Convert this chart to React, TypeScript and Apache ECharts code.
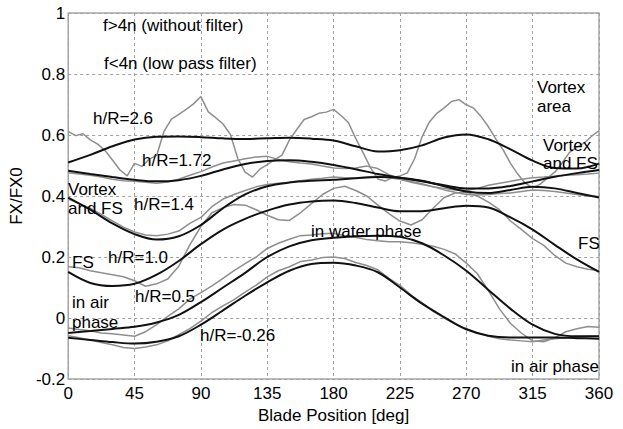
import React, { useEffect, useRef } from "react";
import * as echarts from "echarts";

// sampling steps (degrees) of each family of curves
const STEP_BLACK = 15;
const STEP_GRAY = 7.5;
const STEP_GRAY26 = 5;

const Y_MIN = -0.2;
const Y_MAX = 1;
const Y_STEP = 0.2;
const X_MIN = 0;
const X_MAX = 360;
const X_STEP = 45;

// low pass filtered curves (f<4n), every 15 deg
const black26 = [0.51, 0.535, 0.563, 0.585, 0.594, 0.595, 0.593, 0.589, 0.587, 0.589, 0.591, 0.588, 0.582, 0.563, 0.546, 0.55, 0.566, 0.592, 0.602, 0.586, 0.553, 0.516, 0.492, 0.49, 0.506];
const black172 = [0.483, 0.472, 0.462, 0.453, 0.448, 0.452, 0.466, 0.487, 0.505, 0.515, 0.517, 0.512, 0.502, 0.488, 0.472, 0.46, 0.448, 0.435, 0.425, 0.425, 0.433, 0.448, 0.463, 0.475, 0.485];
const black14 = [0.395, 0.355, 0.31, 0.275, 0.257, 0.268, 0.305, 0.36, 0.405, 0.432, 0.444, 0.45, 0.453, 0.458, 0.462, 0.46, 0.45, 0.432, 0.415, 0.41, 0.42, 0.43, 0.425, 0.41, 0.395];
const black10 = [0.151, 0.115, 0.105, 0.112, 0.142, 0.187, 0.242, 0.29, 0.325, 0.352, 0.372, 0.382, 0.385, 0.377, 0.362, 0.35, 0.35, 0.36, 0.368, 0.362, 0.33, 0.29, 0.24, 0.192, 0.151];
const black05 = [-0.049, -0.043, -0.036, -0.029, -0.015, 0.01, 0.052, 0.1, 0.148, 0.2, 0.235, 0.255, 0.263, 0.268, 0.27, 0.266, 0.245, 0.205, 0.155, 0.092, 0.03, -0.022, -0.052, -0.06, -0.06];
const blackM026 = [-0.065, -0.072, -0.079, -0.084, -0.078, -0.06, -0.022, 0.025, 0.073, 0.117, 0.155, 0.177, 0.181, 0.172, 0.15, 0.1, 0.047, 0.003, -0.037, -0.058, -0.064, -0.064, -0.064, -0.066, -0.068];

// unfiltered curves (f>4n)
const gray26 = [0.612, 0.598, 0.604, 0.584, 0.57, 0.549, 0.518, 0.486, 0.466, 0.507, 0.497, 0.521, 0.533, 0.612, 0.652, 0.668, 0.684, 0.702, 0.726, 0.676, 0.657, 0.636, 0.602, 0.523, 0.478, 0.462, 0.488, 0.503, 0.519, 0.534, 0.583, 0.618, 0.651, 0.66, 0.671, 0.675, 0.684, 0.664, 0.641, 0.589, 0.542, 0.493, 0.456, 0.449, 0.461, 0.466, 0.476, 0.523, 0.594, 0.643, 0.671, 0.689, 0.71, 0.716, 0.699, 0.688, 0.661, 0.627, 0.587, 0.551, 0.507, 0.471, 0.442, 0.427, 0.438, 0.459, 0.478, 0.509, 0.543, 0.56, 0.574, 0.596, 0.614];
const gray172 = [0.476, 0.472, 0.468, 0.462, 0.455, 0.45, 0.448, 0.445, 0.442, 0.446, 0.455, 0.468, 0.48, 0.495, 0.508, 0.515, 0.522, 0.528, 0.53, 0.52, 0.512, 0.508, 0.505, 0.498, 0.492, 0.49, 0.492, 0.498, 0.49, 0.47, 0.455, 0.445, 0.438, 0.43, 0.425, 0.42, 0.418, 0.425, 0.435, 0.442, 0.448, 0.455, 0.46, 0.462, 0.465, 0.468, 0.47, 0.472, 0.475];
const gray14 = [0.39, 0.375, 0.36, 0.34, 0.318, 0.298, 0.282, 0.272, 0.27, 0.275, 0.285, 0.31, 0.33, 0.365, 0.39, 0.405, 0.418, 0.43, 0.438, 0.442, 0.445, 0.45, 0.455, 0.458, 0.462, 0.46, 0.458, 0.462, 0.465, 0.46, 0.455, 0.448, 0.44, 0.43, 0.42, 0.412, 0.405, 0.403, 0.405, 0.408, 0.41, 0.415, 0.42, 0.418, 0.415, 0.41, 0.405, 0.4, 0.398];
const gray10 = [0.168, 0.165, 0.155, 0.148, 0.142, 0.135, 0.122, 0.104, 0.112, 0.128, 0.17, 0.24, 0.3, 0.345, 0.362, 0.372, 0.37, 0.355, 0.337, 0.322, 0.32, 0.345, 0.375, 0.405, 0.425, 0.432, 0.418, 0.4, 0.37, 0.342, 0.318, 0.305, 0.322, 0.36, 0.395, 0.41, 0.412, 0.4, 0.38, 0.355, 0.318, 0.29, 0.26, 0.238, 0.205, 0.18, 0.168, 0.16, 0.155];
const gray05 = [-0.033, -0.038, -0.042, -0.049, -0.052, -0.056, -0.06, -0.045, -0.022, 0.005, 0.03, 0.062, 0.083, 0.105, 0.13, 0.155, 0.178, 0.2, 0.228, 0.245, 0.258, 0.27, 0.272, 0.276, 0.278, 0.27, 0.265, 0.257, 0.253, 0.25, 0.25, 0.247, 0.242, 0.235, 0.225, 0.21, 0.18, 0.145, 0.09, 0.03, -0.018, -0.05, -0.075, -0.078, -0.065, -0.045, -0.035, -0.028, -0.03];
const grayM026 = [-0.058, -0.065, -0.072, -0.08, -0.088, -0.097, -0.1, -0.095, -0.088, -0.075, -0.055, -0.035, -0.01, 0.018, 0.04, 0.06, 0.085, 0.108, 0.135, 0.155, 0.168, 0.185, 0.19, 0.198, 0.2, 0.195, 0.182, 0.172, 0.158, 0.13, 0.107, 0.075, 0.05, 0.022, 0.0, -0.02, -0.035, -0.048, -0.06, -0.068, -0.072, -0.075, -0.078, -0.072, -0.068, -0.065, -0.063, -0.06, -0.06];

// annotation texts
const annotations: { text: string; x: number; y: number }[] = [
  { text: "f>4n (without filter)", x: 103, y: 25 },
  { text: "f<4n (low pass filter)", x: 104, y: 63 },
  { text: "h/R=2.6", x: 93, y: 118 },
  { text: "h/R=1.72", x: 142, y: 160 },
  { text: "Vortex", x: 68, y: 189 },
  { text: "and FS", x: 68, y: 208 },
  { text: "h/R=1.4", x: 134, y: 204 },
  { text: "FS", x: 72, y: 262 },
  { text: "h/R=1.0", x: 108, y: 257 },
  { text: "in air", x: 72, y: 302 },
  { text: "phase", x: 72, y: 322 },
  { text: "h/R=0.5", x: 135, y: 296 },
  { text: "h/R=-0.26", x: 200, y: 335 },
  { text: "in water phase", x: 311, y: 231 },
  { text: "FS", x: 578, y: 243 },
  { text: "in air phase", x: 511, y: 366 },
  { text: "Vortex", x: 537, y: 87 },
  { text: "area", x: 537, y: 106 },
  { text: "Vortex", x: 543, y: 145 },
  { text: "and FS", x: 543, y: 163 },
];

const FONT = "Liberation Sans, Arial, Helvetica, sans-serif";
const FS = 17;

function toPairs(step: number, ys: number[]) {
  return ys.map((y, i) => [i * step, y]);
}

export default function App() {
  const ref = useRef<HTMLDivElement>(null);
  useEffect(() => {
    if (!ref.current) return;
    const chart = echarts.init(ref.current, undefined, { renderer: "svg" });
    const grayStyle = { color: "#8e8e8e", width: 1.5 };
    const blackStyle = { color: "#111111", width: 2 };
    const grays = [
      { name: "g2.6", step: STEP_GRAY26, ys: gray26 },
      { name: "g1.72", step: STEP_GRAY, ys: gray172 },
      { name: "g1.4", step: STEP_GRAY, ys: gray14 },
      { name: "g1.0", step: STEP_GRAY, ys: gray10 },
      { name: "g0.5", step: STEP_GRAY, ys: gray05 },
      { name: "g-0.26", step: STEP_GRAY, ys: grayM026 },
    ];
    const blacks = [
      { name: "b2.6", ys: black26 },
      { name: "b1.72", ys: black172 },
      { name: "b1.4", ys: black14 },
      { name: "b1.0", ys: black10 },
      { name: "b0.5", ys: black05 },
      { name: "b-0.26", ys: blackM026 },
    ];
    const series: any[] = [
      ...grays.map((g) => ({
        name: g.name,
        type: "line",
        data: toPairs(g.step, g.ys),
        showSymbol: false,
        symbol: "none",
        lineStyle: grayStyle,
        z: 2,
      })),
      ...blacks.map((b) => ({
        name: b.name,
        type: "line",
        data: toPairs(STEP_BLACK, b.ys),
        smooth: 0.35,
        showSymbol: false,
        symbol: "none",
        lineStyle: blackStyle,
        z: 3,
      })),
    ];
    chart.setOption({
      animation: false,
      backgroundColor: "#ffffff",
      grid: {
        left: 64,
        right: 24,
        top: 13,
        bottom: 39,
        show: true,
        borderColor: "#a8a8a8",
        borderWidth: 1.5,
        backgroundColor: "transparent",
      },
      xAxis: {
        type: "value",
        min: X_MIN,
        max: X_MAX,
        interval: X_STEP,
        name: "Blade Position [deg]",
        nameLocation: "middle",
        nameGap: 28,
        nameTextStyle: { fontFamily: FONT, fontSize: FS, color: "#000" },
        axisLine: { show: false },
        axisTick: { show: false },
        axisLabel: { fontFamily: FONT, fontSize: FS, color: "#000", margin: 6 },
        splitLine: { show: true, lineStyle: { type: [3, 3], color: "#a0a0a0", width: 1 } },
      },
      yAxis: {
        type: "value",
        min: Y_MIN,
        max: Y_MAX,
        interval: Y_STEP,
        name: "FX/FX0",
        nameLocation: "middle",
        nameGap: 38,
        nameRotate: 90,
        nameTextStyle: { fontFamily: FONT, fontSize: FS, color: "#000" },
        axisLine: { show: false },
        axisTick: { show: false },
        axisLabel: {
          fontFamily: FONT,
          fontSize: FS,
          color: "#000",
          margin: 3,
          formatter: (v: number) => String(Math.round(v * 10) / 10),
        },
        splitLine: { show: true, lineStyle: { type: [3, 3], color: "#a0a0a0", width: 1 } },
      },
      graphic: annotations.map((a) => ({
        type: "text",
        x: a.x,
        y: a.y,
        z: 10,
        style: {
          text: a.text,
          fill: "#000",
          font: `${FS}px ${FONT}`,
          textAlign: "left",
          textVerticalAlign: "middle",
          verticalAlign: "middle",
        },
      })),
      series,
    });
    return () => chart.dispose();
  }, []);
  return (
    <div
      ref={ref}
      style={{ position: "fixed", left: 0, top: 0, width: 623, height: 429, background: "#fff" }}
    />
  );
}
